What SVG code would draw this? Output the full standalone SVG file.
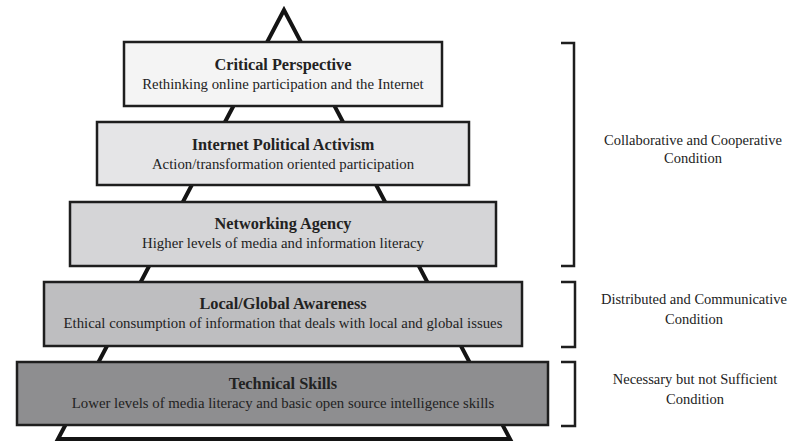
<svg xmlns="http://www.w3.org/2000/svg" width="799" height="444" viewBox="0 0 799 444">
<style>
.tri{fill:none;stroke:#141414;stroke-width:4;stroke-linejoin:miter}
.box{stroke:#1e1e1e;stroke-width:2.5}
.t{font-family:"Liberation Serif","Times New Roman",serif;font-size:16.3px;font-weight:bold;fill:#222;text-anchor:middle}
.s{font-family:"Liberation Serif","Times New Roman",serif;font-size:14.8px;fill:#222;text-anchor:middle}
.br{fill:none;stroke:#1e1e1e;stroke-width:2.5}
.c{font-family:"Liberation Serif","Times New Roman",serif;font-size:14.5px;fill:#222;text-anchor:middle}
</style>
<rect width="799" height="444" fill="#fff"/>
<g id="connectors">
<polygon class="tri" points="284,10 58,439 510,439"/>
</g>
<g id="critical-perspective">
<rect class="box" x="124" y="42" width="318" height="64" fill="#f4f4f4"/>
<text class="t" x="283" y="70">Critical Perspective</text>
<text class="s" x="283" y="89">Rethinking online participation and the Internet</text>
</g>
<g id="internet-political-activism">
<rect class="box" x="97" y="122" width="372" height="63" fill="#e5e5e7"/>
<text class="t" x="283" y="150">Internet Political Activism</text>
<text class="s" x="283" y="169">Action/transformation oriented participation</text>
</g>
<g id="networking-agency">
<rect class="box" x="70" y="202" width="426" height="64" fill="#d5d5d7"/>
<text class="t" x="283" y="229">Networking Agency</text>
<text class="s" x="283" y="248">Higher levels of media and information literacy</text>
</g>
<g id="local-global-awareness">
<rect class="box" x="44" y="282" width="478" height="64" fill="#bebec0"/>
<text class="t" x="283" y="309">Local/Global Awareness</text>
<text class="s" x="283" y="328">Ethical consumption of information that deals with local and global issues</text>
</g>
<g id="technical-skills">
<rect class="box" x="17" y="362" width="531" height="63" fill="#8e8e90"/>
<text class="t" x="283" y="389">Technical Skills</text>
<text class="s" x="283" y="408">Lower levels of media literacy and basic open source intelligence skills</text>
</g>
<g id="collaborative-condition">
<path class="br" d="M561,43 H574 V266 H561"/>
<text class="c" x="693" y="145">Collaborative and Cooperative</text>
<text class="c" x="693" y="163">Condition</text>
</g>
<g id="distributed-condition">
<path class="br" d="M561,282 H575 V347 H561"/>
<text class="c" x="694" y="304">Distributed and Communicative</text>
<text class="c" x="694" y="324">Condition</text>
</g>
<g id="necessary-condition">
<path class="br" d="M561,362 H575 V426 H561"/>
<text class="c" x="695" y="384">Necessary but not Sufficient</text>
<text class="c" x="695" y="404">Condition</text>
</g>
</svg>
